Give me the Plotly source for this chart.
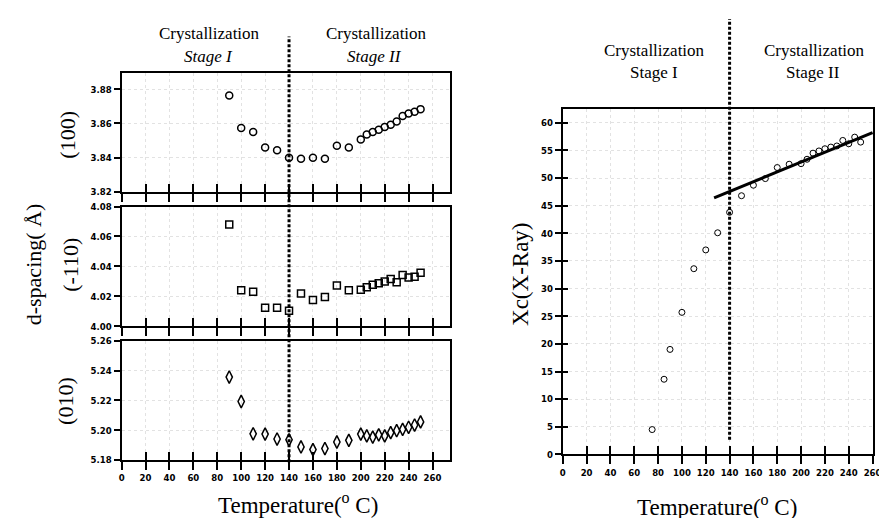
import plotly.graph_objects as go

# ---------------- data ----------------
temp_left = [90, 100, 110, 120, 130, 140, 150, 160, 170, 180, 190, 200,
             205, 210, 215, 220, 225, 230, 235, 240, 245, 250]
d_100 = [3.8764, 3.8573, 3.8550, 3.8459, 3.8444, 3.8400, 3.8394, 3.8400, 3.8394,
         3.8469, 3.8459, 3.8507, 3.8535, 3.8550, 3.8564, 3.8579, 3.8593, 3.8611,
         3.8644, 3.8659, 3.8669, 3.8684]
d_m110 = [4.0680, 4.0240, 4.0231, 4.0124, 4.0124, 4.0103, 4.0218, 4.0175, 4.0196,
          4.0272, 4.0240, 4.0244, 4.0261, 4.0277, 4.0288, 4.0299, 4.0316, 4.0294,
          4.0342, 4.0325, 4.0331, 4.0358]
d_010 = [5.2357, 5.2193, 5.1976, 5.1974, 5.1941, 5.1936, 5.1888, 5.1870, 5.1877,
         5.1921, 5.1932, 5.1974, 5.1962, 5.1954, 5.1969, 5.1962, 5.1984, 5.1997,
         5.2006, 5.2020, 5.2035, 5.2056]

temp_xc = [75, 85, 90, 100, 110, 120, 130, 140, 150, 160, 170, 180, 190, 200,
           205, 210, 215, 220, 225, 230, 235, 240, 245, 250]
xc_xray = [4.5, 13.6, 19.0, 25.7, 33.6, 37.0, 40.1, 43.8, 46.8, 48.7, 49.9, 51.9,
           52.5, 52.6, 53.4, 54.5, 54.9, 55.3, 55.6, 55.8, 56.8, 56.2, 57.4, 56.5]

fit_temp = [127, 260]
fit_xc = [46.4, 58.2]

stage_boundary = 140

x_ticks = list(range(0, 261, 20))
y100_ticks = [3.82, 3.84, 3.86, 3.88]
y110_ticks = [4.00, 4.02, 4.04, 4.06, 4.08]
y010_ticks = [5.18, 5.20, 5.22, 5.24, 5.26]
yxc_ticks = list(range(0, 61, 5))

# ---------------- layout geometry ----------------
W, H = 887, 518
def px(x):
    return x / W
def py(y):
    return 1 - y / H

def bold(vals, fmt="{}"):
    return ["<b>" + fmt.format(v) + "</b>" for v in vals]

SERIF = "Liberation Serif, Times New Roman, serif"
TICKF = dict(family="DejaVu Sans Condensed, DejaVu Sans, sans-serif",
             size=9.5, color="black")

fig = go.Figure()

fig.add_trace(go.Scatter(x=temp_left, y=d_100, mode="markers", xaxis="x", yaxis="y",
                         marker=dict(symbol="circle-open", size=7, color="black", line=dict(width=1.5)),
                         showlegend=False))
fig.add_trace(go.Scatter(x=temp_left, y=d_m110, mode="markers", xaxis="x2", yaxis="y2",
                         marker=dict(symbol="square-open", size=7, color="black", line=dict(width=1.5)),
                         showlegend=False))
fig.add_trace(go.Scatter(x=temp_left, y=d_010, mode="markers", xaxis="x3", yaxis="y3",
                         marker=dict(symbol="diamond-tall-open", size=9, color="black", line=dict(width=1.5)),
                         showlegend=False))
fig.add_trace(go.Scatter(x=temp_xc, y=xc_xray, mode="markers", xaxis="x4", yaxis="y4",
                         marker=dict(symbol="circle-open", size=6, color="black", line=dict(width=1)),
                         showlegend=False))
fig.add_trace(go.Scatter(x=fit_temp, y=fit_xc, mode="lines", xaxis="x4", yaxis="y4",
                         line=dict(color="black", width=3), showlegend=False))

# dummy traces for overlay (inside-tick) axes
for xa, ya in [("x5", "y"), ("x6", "y2"), ("x7", "y3"), ("x8", "y4"), ("x4", "y5")]:
    fig.add_trace(go.Scatter(x=[None], y=[None], xaxis=xa, yaxis=ya, showlegend=False,
                             hoverinfo="skip"))

left_dom = [px(112), px(445)]
right_dom = [px(558.7), px(873)]
p1 = [py(181.7), py(60)]
p2 = [py(319), py(196.7)]
p3 = [py(455.7), py(334)]
pr = [py(450), py(97)]

grid = dict(showgrid=True, gridcolor="#e2e2e2", griddash="dot", gridwidth=1)
xcommon = dict(range=[0, 275], tickvals=x_ticks, ticktext=bold(x_ticks), ticks="outside",
               ticklen=8, tickwidth=1.5, tickcolor="black", showline=True, linecolor="black",
               linewidth=2, mirror=True, zeroline=False, tickfont=TICKF, **grid)
ycommon = dict(ticks="outside", ticklen=6, tickwidth=1.5, tickcolor="black", showline=True,
               linecolor="black", linewidth=2, mirror=True, zeroline=False, tickfont=TICKF,
               **grid)
inside = dict(ticks="inside", ticklen=8, tickwidth=1.5, tickcolor="black", showticklabels=False,
              showgrid=False, showline=False, zeroline=False)

fig.update_layout(
    width=W, height=H, margin=dict(l=0, r=0, t=0, b=0),
    paper_bgcolor="white", plot_bgcolor="white",
    xaxis=dict(domain=left_dom, anchor="y", showticklabels=False, **xcommon),
    xaxis2=dict(domain=left_dom, anchor="y2", showticklabels=False, **xcommon),
    xaxis3=dict(domain=left_dom, anchor="y3", showticklabels=True, **xcommon),
    yaxis=dict(domain=p1, anchor="x", range=[3.82, 3.8897], tickvals=y100_ticks,
               ticktext=bold(y100_ticks, "{:.2f}"), **ycommon),
    yaxis2=dict(domain=p2, anchor="x2", range=[4.00, 4.08], tickvals=y110_ticks,
                ticktext=bold(y110_ticks, "{:.2f}"), **ycommon),
    yaxis3=dict(domain=p3, anchor="x3", range=[5.18, 5.26], tickvals=y010_ticks,
                ticktext=bold(y010_ticks, "{:.2f}"), **ycommon),
    xaxis4=dict(domain=right_dom, anchor="y4", range=[0, 260.5], tickvals=x_ticks,
                ticktext=bold(x_ticks),
                ticks="outside", ticklen=8, tickwidth=1.5, tickcolor="black", showline=True,
                linecolor="black", linewidth=2, mirror=True, zeroline=False, tickfont=TICKF, **grid),
    yaxis4=dict(domain=pr, anchor="x4", range=[0, 62.5], tickvals=yxc_ticks,
                ticktext=bold(yxc_ticks),
                ticks="outside", ticklen=6, tickwidth=1.5, tickcolor="black", showline=True,
                linecolor="black", linewidth=2, mirror=True, zeroline=False, tickfont=TICKF, **grid),
    xaxis5=dict(overlaying="x", anchor="y", range=[0, 275], tickvals=x_ticks, side="bottom", **inside),
    xaxis6=dict(overlaying="x2", anchor="y2", range=[0, 275], tickvals=x_ticks, side="bottom", **inside),
    xaxis7=dict(overlaying="x3", anchor="y3", range=[0, 275], tickvals=x_ticks, side="bottom", **inside),
    xaxis8=dict(overlaying="x4", anchor="y4", range=[0, 260.5], tickvals=x_ticks, side="bottom", **inside),
    yaxis5=dict(overlaying="y4", anchor="x4", range=[0, 62.5], tickvals=yxc_ticks, side="left",
                ticks="inside", ticklen=5, tickwidth=1.5, tickcolor="black", showticklabels=False,
                showgrid=False, showline=False, zeroline=False),
)

# stage boundary dotted lines
fig.add_shape(type="line", xref="x3", yref="paper", x0=stage_boundary, x1=stage_boundary,
              y0=py(458), y1=py(23), line=dict(color="black", width=3, dash="3px,2px"))
fig.add_shape(type="line", xref="x4", yref="paper", x0=stage_boundary, x1=stage_boundary,
              y0=py(435), y1=py(5), line=dict(color="black", width=3, dash="3px,2px"))

def ann(text, x, y, size, angle=0):
    fig.add_annotation(text=text, x=px(x), y=py(y), xref="paper", yref="paper",
                       showarrow=False, textangle=angle, xanchor="center", yanchor="middle",
                       font=dict(family=SERIF, size=size, color="black"))

# headings
ann("Crystallization", 201, 20, 17)
ann("<i>Stage I</i>", 200, 43, 17)
ann("Crystallization", 370, 20, 17)
ann("<i>Stage II</i>", 368, 43, 17)
ann("Crystallization", 652, 37, 17)
ann("Stage I", 651, 60, 17)
ann("Crystallization", 814, 37, 17)
ann("Stage II", 812, 60, 17)

# axis titles
ann("d-spacing( Å)", 23, 256, 22, -90)
ann("(100)", 57, 123, 22, -90)
ann("(-110)", 60, 256, 22, -90)
ann("(010)", 55, 395, 22, -90)
ann("Xc(X-Ray)", 516, 266, 23, -90)
ann("Temperature(<sup>o</sup> C)", 291, 500, 23)
ann("Temperature(<sup>o</sup> C)", 715, 502, 23)

fig.write_html("out.html")
